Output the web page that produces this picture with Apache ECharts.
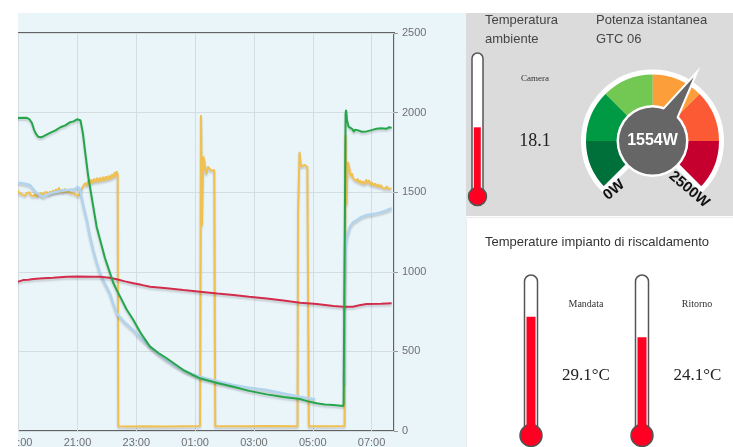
<!DOCTYPE html>
<html><head><meta charset="utf-8">
<script src="https://cdn.jsdelivr.net/npm/echarts@6/dist/echarts.min.js"></script>
<style>html,body{margin:0;padding:0;background:#fff;overflow:hidden}#c{width:733px;height:447px}</style>
</head><body><div id="c"></div><script>
// ---------- line chart data (times HH:MM, night spanning midnight) ----------
const xTickHours = [17, 19, 21, 23, 25, 27, 29, 31];
const yTicks = [0, 500, 1000, 1500, 2000, 2500];

const greenT = ['18:40','19:16','19:22','19:27','19:31','19:35','19:40','19:45','19:50','19:54','20:05','20:15','20:25','20:35','20:45','20:52','20:59','21:06','21:11','21:16','21:22','21:30','21:39','21:47','21:56','22:05','22:13','22:20','22:27','22:40','22:54','23:10','23:28','23:45','00:02','00:20','00:36','00:53','01:10','01:45','02:18','02:50','03:26','04:00','04:34','04:50','05:08','05:25','05:42','06:02','06:03','06:07','06:08','06:10','06:13','06:17','06:21','06:24','06:26','06:29','06:33','06:40','06:50','07:00','07:10','07:20','07:30','07:36','07:41'];
const greenV = [1966,1968,1958,1935,1895,1868,1848,1845,1850,1858,1874,1888,1908,1920,1940,1945,1958,1952,1870,1742,1597,1449,1283,1191,1087,1004,931,885,844,765,697,610,530,490,457,418,383,355,331,302,278,252,230,214,201,186,174,167,163,157,170,1990,2018,1950,1912,1905,1896,1880,1893,1882,1888,1880,1882,1890,1898,1902,1898,1908,1904];

const yellowT = ['18:40','18:43','18:46','18:49','18:52','18:55','18:58','19:01','19:04','19:07','19:10','19:13','19:16','19:19','19:22','19:25','19:28','19:31','19:34','19:37','19:40','19:43','19:46','19:49','19:52','19:55','19:58','20:01','20:04','20:07','20:10','20:13','20:16','20:19','20:22','20:25','20:28','20:31','20:34','20:37','20:40','20:43','20:46','20:49','20:52','20:55','20:58','21:01','21:04','21:07','21:10','21:13','21:16','21:19','21:22','21:25','21:28','21:31','21:34','21:37','21:40','21:43','21:46','21:49','21:52','21:55','21:58','22:01','22:04','22:07','22:10','22:13','22:16','22:18','22:20','22:22','22:23','22:40','23:20','00:00','00:40','01:10','01:11','01:12','01:13','01:14','01:15','01:17','01:19','01:21','01:23','01:26','01:30','01:33','01:37','01:39','01:40','01:41','02:30','03:30','04:29','04:30','04:31','04:33','04:35','04:37','04:40','04:43','04:46','04:49','04:51','04:52','05:30','06:05','06:06','06:07','06:08','06:09','06:10','06:12','06:14','06:16','06:18','06:20','06:22','06:25','06:28','06:31','06:34','06:37','06:40','06:43','06:46','06:49','06:52','06:55','06:58','07:01','07:04','07:07','07:10','07:13','07:16','07:19','07:22','07:25','07:28','07:31','07:34','07:37','07:41'];
const yellowV = [1500,1488,1512,1495,1508,1484,1514,1496,1505,1486,1498,1478,1494,1482,1500,1480,1490,1475,1488,1472,1486,1478,1495,1480,1498,1486,1500,1484,1505,1490,1512,1494,1520,1496,1530,1500,1515,1498,1522,1502,1516,1498,1510,1494,1506,1488,1484,1476,1490,1510,1532,1522,1558,1540,1572,1550,1580,1556,1585,1562,1590,1565,1592,1568,1596,1570,1600,1575,1605,1580,1612,1588,1625,1600,1632,1610,30,28,30,29,30,31,32,1985,1700,1290,1500,1725,1690,1640,1615,1660,1652,1635,1625,1640,1630,30,30,31,30,1370,1500,1754,1690,1660,1650,1672,1668,1660,1665,30,30,31,900,1860,1600,1420,1560,1690,1660,1630,1600,1620,1590,1600,1570,1585,1560,1575,1552,1568,1548,1580,1555,1575,1545,1562,1540,1555,1535,1550,1530,1545,1528,1540,1522,1538,1520,1532,1524];

const blueT = ['18:40','18:59','19:10','19:23','19:35','19:45','19:50','20:04','20:20','20:38','20:55','21:00','21:02','21:05','21:08','21:13','21:19','21:25','21:32','21:39','21:46','21:56','22:06','22:13','22:20','22:37','22:54','23:10','23:28','23:45','00:02','00:20','00:36','00:53','01:10','01:45','02:18','02:50','03:26','04:00','04:34','04:50','05:05','05:06','06:04','06:05','06:07','06:09','06:16','06:22','06:30','06:40','06:50','07:00','07:10','07:20','07:30','07:41'];
const blueV = [1565,1560,1555,1545,1500,1478,1471,1493,1505,1514,1518,1535,1545,1520,1471,1400,1325,1230,1137,1060,990,925,865,800,739,680,634,580,530,485,446,410,383,360,341,312,289,272,257,236,215,206,199,null,300,820,1150,1210,1283,1310,1325,1345,1357,1362,1367,1375,1385,1399];

const redT = ['18:40','18:59','19:09','19:20','19:30','19:50','20:10','20:38','21:00','21:30','21:46','22:05','22:20','22:37','22:54','23:10','23:28','00:02','00:36','01:10','01:45','02:18','02:50','03:26','04:00','04:34','05:08','05:42','06:02','06:15','06:22','06:35','06:50','07:20','07:41'];
const redV = [935,938,948,950,955,959,962,969,970,969,969,962,953,940,928,918,906,896,885,875,864,854,843,833,820,806,798,785,781,780,781,790,798,800,802];

// ---------- gauge / thermometer data ----------
const gaugeValue = 1554;
const gaugeMin = 0, gaugeMax = 2500;
const gaugeColors = ['#00703b', '#009a44', '#72c852', '#fc9f3b', '#fc5a35', '#c6002e'];
const gaugeEndLabels = ['0W', '2500W'];
const thermoAmbiente = 18.1;
const thermoMandata = 29.1;
const thermoRitorno = 24.1;

function toH(t){ const p = t.split(':').map(Number); return (p[0] < 12 ? p[0] + 24 : p[0]) + p[1] / 60; }
function pts(T, V){ return T.map((t, i) => [toH(t), V[i] === null ? NaN : V[i]]); }

const SANS = 'Liberation Sans';
const SERIF = 'Liberation Serif';
const shadow = { shadowColor: 'rgba(0,0,0,0.18)', shadowBlur: 2, shadowOffsetY: 2 };

function txt(text, x, y, size, family, color, align, extra){
  return Object.assign({ type: 'text', x: x, y: y, z: 30, silent: true,
    style: { text: text, x: 0, y: 0, fontSize: size, fontFamily: family, fill: color,
      align: align || 'left', verticalAlign: 'middle' } }, extra || {});
}
function tube(x, y, w, h){
  return { type: 'rect', z: 1, silent: true, shape: { x: x, y: y, width: w, height: h, r: [w/2, w/2, 0, 0] },
    style: { fill: '#fff', stroke: '#555', lineWidth: 1.5 } };
}
function bulb(cx, cy, r, inner){
  return inner
    ? { type: 'circle', z: 20, silent: true, shape: { cx: cx, cy: cy, r: r }, style: { fill: '#ff0022' } }
    : { type: 'circle', z: 1, silent: true, shape: { cx: cx, cy: cy, r: r }, style: { fill: '#ff0022', stroke: '#555', lineWidth: 1.5 } };
}

const chart = echarts.init(document.getElementById('c'), null, { renderer: 'canvas' });
const hourLabel = v => {
  if (Math.abs(v - Math.round(v)) > 1e-6) return '';
  const h = Math.round(v) % 24; return (h < 10 ? '0' : '') + h + ':00';
};
const hiddenCat = i => ({ type: 'category', gridIndex: i, data: ['t'], show: false });
const hiddenVal = (i, max) => ({ type: 'value', gridIndex: i, min: 0, max: max, show: false });

chart.setOption({
  animation: false,
  backgroundColor: '#fff',
  grid: [
    { left: -40.1, right: 339, top: 33, bottom: 16, show: true, borderColor: '#626262', borderWidth: 2, backgroundColor: 'transparent', outerBoundsMode: 'none', containLabel: false },
    { left: 472.3, width: 10, top: 43.6, height: 152.9, outerBoundsMode: 'none' },
    { left: 526, width: 10, top: 272.3, height: 163.2, outerBoundsMode: 'none' },
    { left: 637, width: 10, top: 272.3, height: 163.2, outerBoundsMode: 'none' }
  ],
  xAxis: [
    { type: 'value', gridIndex: 0, min: 17, max: 31.763, interval: 2,
      axisLine: { show: false }, axisTick: { show: false },
      axisLabel: { formatter: hourLabel, color: '#707070', fontSize: 11, fontFamily: SANS, margin: 6, showMaxLabel: false },
      splitLine: { show: true, lineStyle: { color: '#d4dde1', width: 1 } } },
    hiddenCat(1), hiddenCat(2), hiddenCat(3)
  ],
  yAxis: [
    { type: 'value', gridIndex: 0, position: 'right', min: 0, max: 2500, interval: 500,
      axisLine: { show: false }, axisTick: { show: true, length: 4, lineStyle: { color: '#999' } },
      axisLabel: { formatter: v => String(v), color: '#707070', fontSize: 11, fontFamily: SANS, margin: 8 },
      splitLine: { show: true, lineStyle: { color: '#d4dde1', width: 1 } } },
    hiddenVal(1, 40), hiddenVal(2, 40), hiddenVal(3, 40)
  ],
  series: [
    { type: 'line', name: 'Potenza', data: pts(yellowT, yellowV), showSymbol: false, silent: true, z: 2,
      lineStyle: Object.assign({ color: '#f0c152', width: 2 }, shadow) },
    { type: 'line', name: 'T1', data: pts(blueT, blueV), showSymbol: false, silent: true, z: 3, connectNulls: false,
      lineStyle: Object.assign({ color: '#b2d4ec', width: 2.5 }, shadow) },
    { type: 'line', name: 'Ambiente', data: pts(redT, redV), showSymbol: false, silent: true, z: 4,
      lineStyle: Object.assign({ color: '#d22c4b', width: 2 }, shadow) },
    { type: 'line', name: 'Mandata', data: pts(greenT, greenV), showSymbol: false, silent: true, z: 5,
      lineStyle: Object.assign({ color: '#25a64a', width: 2 }, shadow) },

    // thermometer fills
    { type: 'bar', xAxisIndex: 1, yAxisIndex: 1, data: [thermoAmbiente], barWidth: 7, silent: true, z: 5, itemStyle: { color: '#ff0022' } },
    { type: 'bar', xAxisIndex: 2, yAxisIndex: 2, data: [thermoMandata], barWidth: 9, silent: true, z: 5, itemStyle: { color: '#ff0022' } },
    { type: 'bar', xAxisIndex: 3, yAxisIndex: 3, data: [thermoRitorno], barWidth: 9, silent: true, z: 5, itemStyle: { color: '#ff0022' } },

    // gauge coloured band
    { type: 'gauge', center: [652.5, 141], radius: 69, startAngle: 225, endAngle: -45, min: gaugeMin, max: gaugeMax, silent: true, z: 2,
      axisLine: { lineStyle: { width: 69, color: gaugeColors.map((c, i) => [(i + 1) / gaugeColors.length, c]) } },
      splitLine: { show: false }, axisTick: { show: false }, axisLabel: { show: false },
      pointer: { show: false }, anchor: { show: false }, title: { show: false }, detail: { show: false },
      data: [{ value: gaugeValue }] },
    // white outline of the gauge
    { type: 'pie', center: [652.5, 141], radius: [0, 69], startAngle: 225, clockwise: true, silent: true, z: 3,
      label: { show: false }, labelLine: { show: false }, emphasis: { disabled: true },
      data: [
        { value: 270, itemStyle: { color: 'rgba(0,0,0,0)', borderColor: '#fff', borderWidth: 5 } },
        { value: 90, itemStyle: { color: 'rgba(0,0,0,0)', borderWidth: 0 } }
      ] },
    // white ring behind the hub
    { type: 'gauge', center: [652.5, 141], radius: 69, startAngle: 225, endAngle: -45, min: gaugeMin, max: gaugeMax, silent: true, z: 4,
      axisLine: { show: false }, splitLine: { show: false }, axisTick: { show: false }, axisLabel: { show: false },
      pointer: { show: false }, title: { show: false }, detail: { show: false },
      anchor: { show: true, showAbove: true, size: 72, itemStyle: { color: '#fff' } },
      data: [{ value: gaugeValue }] },
    // pointer + hub
    { type: 'gauge', center: [652.5, 141], radius: 69, startAngle: 225, endAngle: -45, min: gaugeMin, max: gaugeMax, silent: true, z: 5,
      axisLine: { show: false }, splitLine: { show: false }, axisTick: { show: false }, axisLabel: { show: false },
      pointer: { show: true, icon: 'triangle', length: '119%', width: 28, itemStyle: { color: '#666', borderColor: '#fff', borderWidth: 2 } },
      anchor: { show: true, showAbove: true, size: 67, itemStyle: { color: '#666' } },
      title: { show: false }, detail: { show: false },
      data: [{ value: gaugeValue }] },
    // value text
    { type: 'gauge', center: [652.5, 141], radius: 69, startAngle: 225, endAngle: -45, min: gaugeMin, max: gaugeMax, silent: true, z: 6,
      axisLine: { show: false }, splitLine: { show: false }, axisTick: { show: false }, axisLabel: { show: false },
      pointer: { show: false }, anchor: { show: false }, title: { show: false },
      detail: { show: true, offsetCenter: [0, 0], formatter: '{value}W', color: '#fff', fontSize: 16, fontWeight: 'bold', fontFamily: SANS },
      data: [{ value: gaugeValue }] }
  ],
  graphic: [
    { type: 'rect', z: -10, silent: true, shape: { x: 18, y: 13, width: 448, height: 434 }, style: { fill: '#eaf5fa' } },
    { type: 'rect', z: -10, silent: true, shape: { x: 466, y: 13, width: 267, height: 203 }, style: { fill: '#dbdbdb' } },
    { type: 'rect', z: -10, silent: true, shape: { x: 466.5, y: 217.5, width: 267, height: 231 }, style: { fill: '#fff', stroke: '#ececec', lineWidth: 1 } },
    { type: 'rect', z: 100, silent: true, shape: { x: 0, y: 0, width: 18, height: 447 }, style: { fill: '#fff' } },

    tube(472, 53, 11, 143), bulb(477.5, 196.5, 9, false), bulb(477.5, 196.5, 7.5, true),
    tube(524.5, 275, 13, 160), bulb(531, 435.5, 11, false), bulb(531, 435.5, 9.5, true),
    tube(635.5, 275, 13, 160), bulb(642, 435.5, 11, false), bulb(642, 435.5, 9.5, true),

    txt('Temperatura', 485, 20, 13, SANS, '#444'),
    txt('ambiente', 485, 39, 13, SANS, '#444'),
    txt('Potenza istantanea', 596, 20, 13, SANS, '#444'),
    txt('GTC 06', 596, 39, 13, SANS, '#444'),
    txt('Camera', 535, 79, 9, SERIF, '#333', 'center'),
    txt(String(thermoAmbiente), 535, 141.5, 18, SERIF, '#222', 'center'),
    txt('Temperature impianto di riscaldamento', 485, 242.5, 13, SANS, '#333'),
    txt('Mandata', 586, 304.5, 10, SERIF, '#333', 'center'),
    txt('Ritorno', 697, 304.5, 10, SERIF, '#333', 'center'),
    txt(thermoMandata + '°C', 586, 375.5, 17, SERIF, '#222', 'center'),
    txt(thermoRitorno + '°C', 697.5, 375.5, 17, SERIF, '#222', 'center'),
    { type: 'text', x: 614, y: 190, rotation: 0.7, z: 30, silent: true,
      style: { text: gaugeEndLabels[0], x: 0, y: 0, fontSize: 15, fontWeight: 'bold', fontFamily: SANS, fill: '#111', align: 'center', verticalAlign: 'middle' } },
    { type: 'text', x: 689, y: 189.5, rotation: -0.7, z: 30, silent: true,
      style: { text: gaugeEndLabels[1], x: 0, y: 0, fontSize: 15, fontWeight: 'bold', fontFamily: SANS, fill: '#111', align: 'center', verticalAlign: 'middle' } }
  ]
});
</script></body></html>
